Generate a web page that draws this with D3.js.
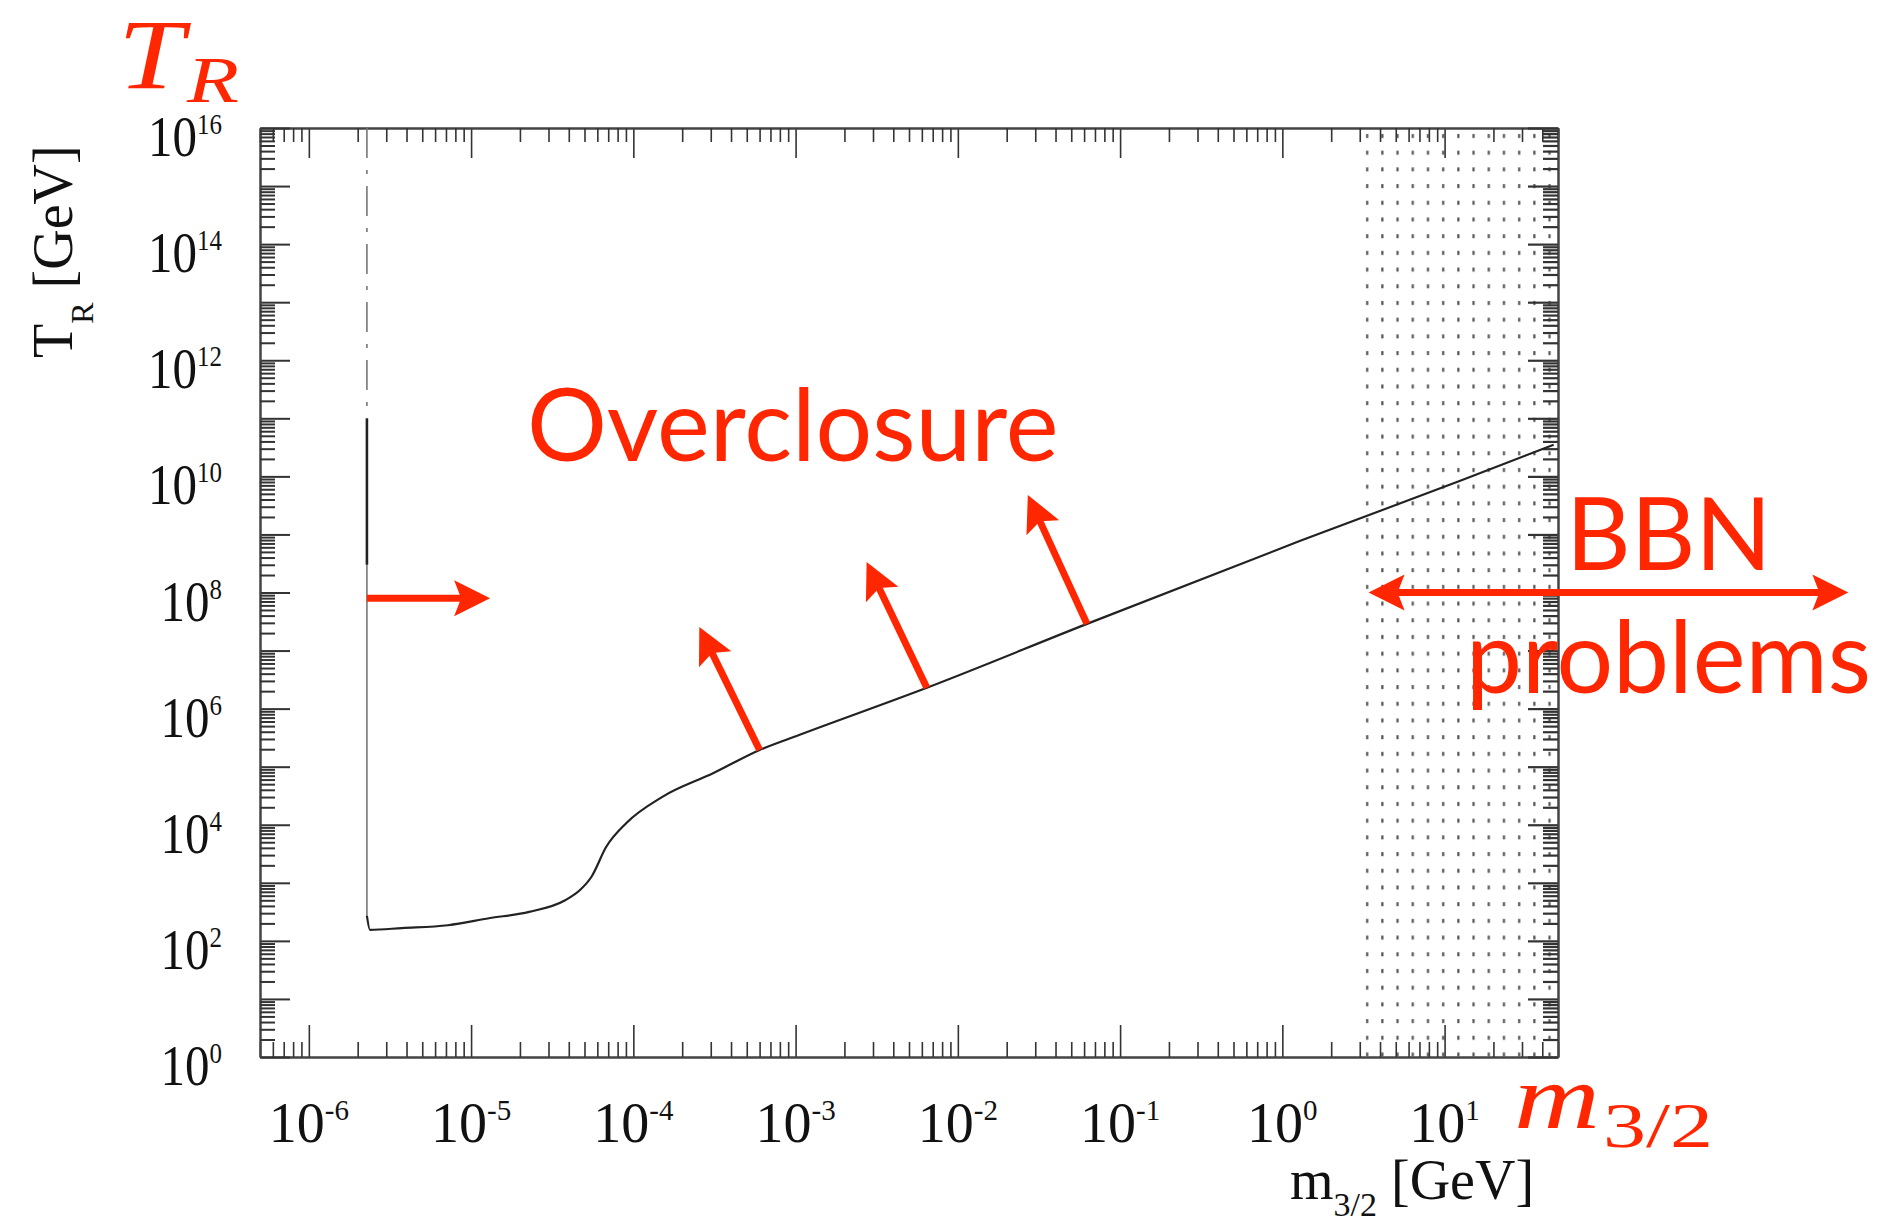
<!DOCTYPE html>
<html>
<head>
<meta charset="utf-8">
<script src="https://cdnjs.cloudflare.com/ajax/libs/d3/7.8.5/d3.min.js"></script>
<style>
  body { margin: 0; background: #fff; }
  svg { display: block; }
</style>
</head>
<body>
<div id="chart"></div>
<script>
var fullwidth = 1879, fullheight = 1223;
var margin = {top: 128, right: 321, bottom: 166, left: 260};
var width = fullwidth - margin.left - margin.right;
var height = fullheight - margin.top - margin.bottom;

var red = "#ff2600";

// axis ranges + tick labels (exponents)
var massDomain = [5e-7, 50];
var tempDomain = [1, 1e16];
var xTickExps = ["-6", "-5", "-4", "-3", "-2", "-1", "0", "1"];
var yTickExps = ["0", "2", "4", "6", "8", "10", "12", "14", "16"];

// vertical cut (m_3/2 ~ 2 keV), split in the three line styles seen in the scan
var cutMass = 2.28e-6;
var cutTemps = [1e16, 1e11, 3e8, 269];

// overclosure bound
var curveMass = [2.28e-6, 2.38e-6, 3.75e-6, 7.21e-6, 1.29e-5, 2.28e-5, 3.80e-5, 4.71e-5,
                 5.51e-5, 6.81e-5, 9.06e-5, 1.51e-4, 3.12e-4, 6.0e-4, 1.06e-3, 6.44e-3,
                 6.25e-2, 1.29, 12.6, 47];
var curveTemp = [269, 155, 166, 186, 245, 316, 501, 759,
                 1259, 4170, 1.07e4, 3.02e4, 7.76e4, 1.94e5, 3.55e5, 2.29e6,
                 2.88e7, 7.76e8, 8.5e9, 3.5e10];

// BBN shaded region
var bbnMass = [3.1, 50];

// red annotation arrows (from -> to, in data units)
var upFromMass = [6.0e-4, 6.44e-3, 6.25e-2];
var upFromTemp = [1.94e5, 2.29e6, 2.88e7];
var upToMass = [2.55e-4, 2.74e-3, 2.70e-2];
var upToTemp = [2.55e7, 3.36e8, 4.79e9];
var cutArrowMass = [2.28e-6, 1.31e-5];
var cutArrowTemp = 8e7;
var bbnArrowMass = [3.4, 3080];
var bbnArrowTemp = 1e8;

var x = d3.scaleLog().domain(massDomain).range([0, width]);
var y = d3.scaleLog().domain(tempDomain).range([height, 0]);

var root = d3.select("#chart").append("svg")
    .attr("width", fullwidth)
    .attr("height", fullheight);

var bx0 = x(bbnMass[0]);
var pat = root.append("defs").append("pattern")
    .attr("id", "stipple")
    .attr("patternUnits", "userSpaceOnUse")
    .attr("x", bx0)
    .attr("width", 15.2)
    .attr("height", 16.7);
pat.append("rect")
    .attr("x", 4).attr("y", 6)
    .attr("width", 2.2).attr("height", 4)
    .attr("fill", "#555");

var svg = root.append("g")
    .attr("transform", "translate(" + margin.left + "," + margin.top + ")");

// BBN region
svg.append("rect")
    .attr("x", bx0)
    .attr("y", 0)
    .attr("width", x(bbnMass[1]) - bx0)
    .attr("height", height)
    .attr("fill", "url(#stipple)");

// ticks on all four sides, pointing in
function isPow(d) {
    var l = Math.log10(d);
    return Math.abs(l - Math.round(l)) < 1e-6;
}
var xAll = x.ticks(20), yAll = y.ticks(40);
var xMaj = xAll.filter(isPow), xMin = xAll.filter(function(d) { return !isPow(d); });
var yMaj = yAll.filter(isPow), yMin = yAll.filter(function(d) { return !isPow(d); });

function addAxis(axisFn, scale, vals, size, tr, sw) {
    var g = svg.append("g")
        .attr("transform", tr)
        .call(axisFn(scale).tickValues(vals).tickSize(-size).tickSizeOuter(0).tickFormat(""));
    g.selectAll("line").attr("stroke", "#333").attr("stroke-width", sw);
    g.select(".domain").attr("stroke", "#444").attr("stroke-width", 2);
    return g;
}
addAxis(d3.axisBottom, x, xMaj, 32, "translate(0," + height + ")", 1.6);
addAxis(d3.axisBottom, x, xMin, 15, "translate(0," + height + ")", 1.6);
addAxis(d3.axisTop, x, xMaj, 30, "translate(0,0)", 1.6);
addAxis(d3.axisTop, x, xMin, 14, "translate(0,0)", 1.6);
addAxis(d3.axisLeft, y, yMaj, 30, "translate(0,0)", 2);
addAxis(d3.axisLeft, y, yMin, 15, "translate(0,0)", 2);
addAxis(d3.axisRight, y, yMaj, 30, "translate(" + width + ",0)", 2.2);
addAxis(d3.axisRight, y, yMin, 15, "translate(" + width + ",0)", 2.2);

// tick labels 10^n
var ylab = svg.selectAll("text.ylab")
    .data(yTickExps)
    .enter().append("text")
    .attr("class", "ylab")
    .attr("transform", function(d) {
        return "translate(-38," + (y(Math.pow(10, +d)) + 28) + ") scale(0.86,1)";
    })
    .attr("text-anchor", "end")
    .attr("font-family", "Liberation Serif")
    .attr("font-size", 57)
    .attr("fill", "#111");
ylab.append("tspan").text("10");
ylab.append("tspan").attr("dy", -22).attr("font-size", 29).text(function(d) { return d; });

var xlab = svg.selectAll("text.xlab")
    .data(xTickExps)
    .enter().append("text")
    .attr("class", "xlab")
    .attr("x", function(d) { return x(Math.pow(10, +d)); })
    .attr("y", height + 85)
    .attr("text-anchor", "middle")
    .attr("font-family", "Liberation Serif")
    .attr("font-size", 56)
    .attr("fill", "#111");
xlab.append("tspan").text("10");
xlab.append("tspan").attr("dy", -22).attr("font-size", 29).text(function(d) { return d; });

// axis titles
var yt = root.append("text")
    .attr("transform", "translate(72,358) rotate(-90)")
    .attr("font-family", "Liberation Serif")
    .attr("font-size", 56)
    .attr("fill", "#111");
yt.append("tspan").text("T");
yt.append("tspan").attr("dy", 21).attr("font-size", 32).text("R");
yt.append("tspan").attr("dy", -21).text(" [GeV]");

var xt = root.append("text")
    .attr("x", 1290).attr("y", 1199)
    .attr("font-family", "Liberation Serif")
    .attr("font-size", 56)
    .attr("fill", "#111");
xt.append("tspan").text("m");
xt.append("tspan").attr("dy", 17).attr("font-size", 34).text("3/2");
xt.append("tspan").attr("dy", -17).text(" [GeV]");

// the bound: vertical cut + curve
var cutStyles = [
    {stroke: "#777", width: 1.6, dash: "30,12,4,12"},
    {stroke: "#222", width: 2.6, dash: null},
    {stroke: "#777", width: 1.6, dash: null}
];
cutStyles.forEach(function(s, i) {
    svg.append("line")
        .attr("x1", x(cutMass)).attr("x2", x(cutMass))
        .attr("y1", y(cutTemps[i])).attr("y2", y(cutTemps[i + 1]))
        .attr("stroke", s.stroke)
        .attr("stroke-width", s.width)
        .attr("stroke-dasharray", s.dash);
});

var line = d3.line()
    .x(function(d) { return x(d[0]); })
    .y(function(d) { return y(d[1]); })
    .curve(d3.curveMonotoneX);

svg.append("path")
    .datum(d3.zip(curveMass, curveTemp))
    .attr("d", line)
    .attr("fill", "none")
    .attr("stroke", "#222")
    .attr("stroke-width", 2.2);

// red arrows
function arrow(x1, y1, x2, y2, both) {
    var ang = Math.atan2(y2 - y1, x2 - x1) * 180 / Math.PI;
    var len = Math.sqrt((x2 - x1) * (x2 - x1) + (y2 - y1) * (y2 - y1));
    var a = svg.append("g")
        .attr("transform", "translate(" + x1 + "," + y1 + ") rotate(" + ang + ")");
    a.append("line")
        .attr("x1", both ? 28 : 0).attr("x2", len - 28)
        .attr("y1", 0).attr("y2", 0)
        .attr("stroke", red)
        .attr("stroke-width", 7);
    var head = "M0,0L-36,-18L-29,0L-36,18Z";
    a.append("path").attr("d", head).attr("transform", "translate(" + len + ",0)").attr("fill", red);
    if (both) a.append("path").attr("d", head).attr("transform", "rotate(180)").attr("fill", red);
}

upFromMass.forEach(function(m, i) {
    arrow(x(m), y(upFromTemp[i]), x(upToMass[i]), y(upToTemp[i]), false);
});
arrow(x(cutArrowMass[0]), y(cutArrowTemp), x(cutArrowMass[1]), y(cutArrowTemp), false);
arrow(x(bbnArrowMass[0]), y(bbnArrowTemp), x(bbnArrowMass[1]), y(bbnArrowTemp), true);

// red labels
function redText(tx, ty, str) {
    root.append("text")
        .attr("x", tx).attr("y", ty)
        .attr("font-family", "Lato")
        .attr("font-size", 100)
        .attr("fill", red)
        .text(str);
}
redText(527, 461, "Overclosure");
redText(1566, 570, "BBN");
redText(1466, 693, "problems");

root.append("text")
    .attr("x", 118).attr("y", 88)
    .attr("font-family", "Liberation Serif")
    .attr("font-style", "italic")
    .attr("font-size", 100)
    .attr("textLength", 66)
    .attr("lengthAdjust", "spacingAndGlyphs")
    .attr("fill", red)
    .text("T");
root.append("text")
    .attr("x", 187).attr("y", 102)
    .attr("font-family", "Liberation Serif")
    .attr("font-style", "italic")
    .attr("font-size", 66)
    .attr("textLength", 52)
    .attr("lengthAdjust", "spacingAndGlyphs")
    .attr("fill", red)
    .text("R");

root.append("text")
    .attr("x", 1514).attr("y", 1128)
    .attr("font-family", "Liberation Serif")
    .attr("font-style", "italic")
    .attr("font-size", 92)
    .attr("textLength", 86)
    .attr("lengthAdjust", "spacingAndGlyphs")
    .attr("fill", red)
    .text("m");
root.append("text")
    .attr("x", 1603).attr("y", 1147)
    .attr("font-family", "Liberation Serif")
    .attr("font-size", 64)
    .attr("textLength", 110)
    .attr("lengthAdjust", "spacingAndGlyphs")
    .attr("fill", red)
    .text("3/2");
</script>
</body>
</html>
